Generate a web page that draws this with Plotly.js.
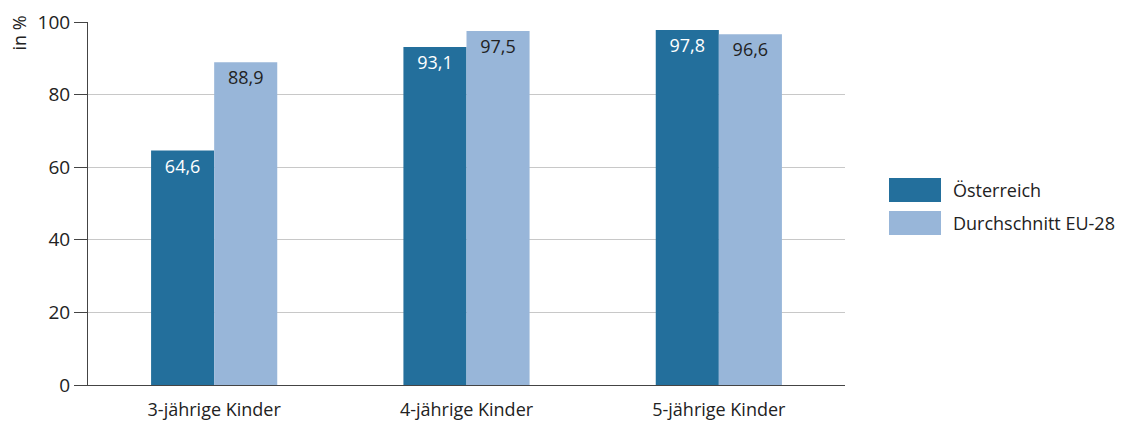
<!DOCTYPE html>
<html><head><meta charset="utf-8">
<script src="https://cdn.plot.ly/plotly-3.0.1.min.js"></script>
<style>html,body{margin:0;padding:0;background:#fff}#c{width:1123px;height:423px}</style>
</head><body><div id="c"></div>
<script>
const categories = ["3-jährige Kinder", "4-jährige Kinder", "5-jährige Kinder"];
const seriesNames = ["Österreich", "Durchschnitt EU-28"];
const oesterreich = [64.6, 93.1, 97.8];
const eu28 = [88.9, 97.5, 96.6];
const yTicks = [0, 20, 40, 60, 80, 100];

const colors = ["#236f9c", "#98b6d9"];
const textColors = ["#ffffff", "#222222"];
const FONT = "Open Sans, sans-serif";

const traces = [oesterreich, eu28].map((vals, i) => ({
  type: "bar",
  name: seriesNames[i],
  x: categories,
  y: vals,
  marker: {color: colors[i]},
  texttemplate: "%{y:.1f}",
  textposition: "inside",
  insidetextanchor: "end",
  textangle: 0,
  insidetextfont: {family: FONT, size: 18, color: textColors[i]},
  hoverinfo: "none",
  showlegend: false
}));

const shapes = [];
const annotations = [];
seriesNames.forEach((n, i) => {
  const top = 178 + i * 33;
  shapes.push({type: "rect", xref: "paper", yref: "paper",
    x0: (889 - 88) / 757, x1: (941 - 88) / 757,
    y0: 1 - (top + 24 - 22) / 363, y1: 1 - (top - 22) / 363,
    fillcolor: colors[i], line: {width: 0}});
  annotations.push({xref: "paper", yref: "paper", x: (951 - 88) / 757,
    y: 1 - (top + 12 - 22) / 363, xanchor: "left", yanchor: "middle",
    text: n, showarrow: false, font: {family: FONT, size: 18, color: "#222"}});
});
annotations.push({xref: "paper", yref: "paper", x: 0, xshift: -70, y: 1, yshift: 8,
  xanchor: "center", yanchor: "top", textangle: -90, text: "in %", showarrow: false,
  font: {family: FONT, size: 18, color: "#222"}});

Plotly.newPlot("c", traces, {
  width: 1123, height: 423,
  margin: {l: 88, r: 278, t: 22, b: 38},
  paper_bgcolor: "#fff", plot_bgcolor: "#fff",
  separators: ",.",
  barmode: "group", bargap: 0.5, bargroupgap: 0,
  font: {family: FONT, size: 18, color: "#222"},
  xaxis: {type: "category", range: [-0.5, 2.5], showline: true, linecolor: "#444", linewidth: 1,
    ticks: "", ticklabelstandoff: 8, tickfont: {family: FONT, size: 18, color: "#222"}, showgrid: false, fixedrange: true},
  yaxis: {range: [0, 100], tickvals: yTicks, showline: true, linecolor: "#444", linewidth: 1,
    ticks: "outside", ticklen: 13, tickcolor: "#444", gridcolor: "#c8c8c8", zeroline: false,
    tickfont: {family: FONT, size: 19, color: "#222"}, fixedrange: true},
  shapes: shapes,
  annotations: annotations
}, {displayModeBar: false, staticPlot: true});
</script></body></html>
